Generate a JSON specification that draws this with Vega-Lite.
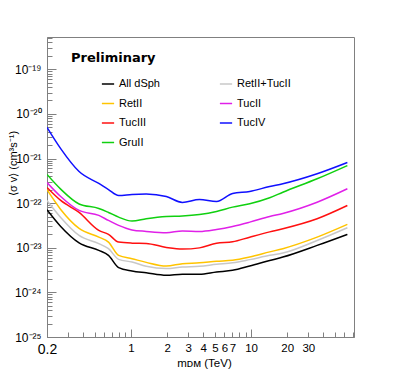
{
  "$schema": "https://vega.github.io/schema/vega-lite/v6.json",
  "width": 307,
  "height": 300,
  "autosize": {"type": "none"},
  "padding": {"left": 47, "top": 37, "right": 40, "bottom": 38},
  "background": "white",
  "title": {"text": "Preliminary", "anchor": "start", "frame": "group", "dx": 24, "offset": -43, "baseline": "alphabetic", "font": "DejaVu Sans", "fontSize": 13, "fontWeight": "bold", "color": "black"},
  "config": {
    "view": {"stroke": "#808080", "strokeWidth": 1},
    "axis": {"grid": false, "domainColor": "#808080", "tickColor": "#808080", "labelColor": "black", "labelFont": "Liberation Sans", "titleFont": "Liberation Sans", "titleColor": "black", "titleFontWeight": "normal", "labelOverlap": false, "labelFlush": false}
  },
  "data": {"values": [
    {"s":"All dSph","m":0.2,"sv":7.11e-23},{"s":"All dSph","m":0.26,"sv":3.01e-23},{"s":"All dSph","m":0.37,"sv":1.29e-23},{"s":"All dSph","m":0.54,"sv":8.74e-24},{"s":"All dSph","m":0.65,"sv":6.76e-24},{"s":"All dSph","m":0.79,"sv":3.59e-24},{"s":"All dSph","m":1.02,"sv":3.01e-24},{"s":"All dSph","m":1.34,"sv":2.74e-24},{"s":"All dSph","m":1.97,"sv":2.41e-24},{"s":"All dSph","m":2.68,"sv":2.54e-24},{"s":"All dSph","m":3.72,"sv":2.54e-24},{"s":"All dSph","m":5.16,"sv":2.86e-24},{"s":"All dSph","m":7.02,"sv":3.12e-24},{"s":"All dSph","m":9.75,"sv":3.9e-24},{"s":"All dSph","m":14.3,"sv":5.18e-24},{"s":"All dSph","m":18.4,"sv":6.19e-24},{"s":"All dSph","m":35.5,"sv":1.13e-23},{"s":"All dSph","m":63.4,"sv":2.0e-23},
    {"s":"RetII+TucII","m":0.2,"sv":1.15e-22},{"s":"RetII+TucII","m":0.26,"sv":4.79e-23},{"s":"RetII+TucII","m":0.37,"sv":1.89e-23},{"s":"RetII+TucII","m":0.54,"sv":1.24e-23},{"s":"RetII+TucII","m":0.65,"sv":9.55e-24},{"s":"RetII+TucII","m":0.79,"sv":5.5e-24},{"s":"RetII+TucII","m":1.02,"sv":4.79e-24},{"s":"RetII+TucII","m":1.34,"sv":3.84e-24},{"s":"RetII+TucII","m":1.97,"sv":3.41e-24},{"s":"RetII+TucII","m":2.68,"sv":3.7e-24},{"s":"RetII+TucII","m":3.72,"sv":3.84e-24},{"s":"RetII+TucII","m":5.16,"sv":4.25e-24},{"s":"RetII+TucII","m":7.02,"sv":4.59e-24},{"s":"RetII+TucII","m":9.75,"sv":5.42e-24},{"s":"RetII+TucII","m":14.3,"sv":6.76e-24},{"s":"RetII+TucII","m":18.4,"sv":7.61e-24},{"s":"RetII+TucII","m":35.5,"sv":1.46e-23},{"s":"RetII+TucII","m":63.4,"sv":2.82e-23},
    {"s":"RetII","m":0.2,"sv":2.0e-22},{"s":"RetII","m":0.26,"sv":7.23e-23},{"s":"RetII","m":0.37,"sv":2.72e-23},{"s":"RetII","m":0.54,"sv":1.73e-23},{"s":"RetII","m":0.65,"sv":1.34e-23},{"s":"RetII","m":0.79,"sv":6.76e-24},{"s":"RetII","m":1.02,"sv":5.7e-24},{"s":"RetII","m":1.34,"sv":4.71e-24},{"s":"RetII","m":1.97,"sv":3.9e-24},{"s":"RetII","m":2.68,"sv":4.41e-24},{"s":"RetII","m":3.72,"sv":4.59e-24},{"s":"RetII","m":5.16,"sv":4.96e-24},{"s":"RetII","m":7.02,"sv":5.22e-24},{"s":"RetII","m":9.75,"sv":6.19e-24},{"s":"RetII","m":14.3,"sv":8.09e-24},{"s":"RetII","m":18.4,"sv":9.55e-24},{"s":"RetII","m":35.5,"sv":1.73e-23},{"s":"RetII","m":63.4,"sv":3.34e-23},
    {"s":"TucII","m":0.2,"sv":2.9e-22},{"s":"TucII","m":0.26,"sv":1.41e-22},{"s":"TucII","m":0.37,"sv":6.87e-23},{"s":"TucII","m":0.54,"sv":5.31e-23},{"s":"TucII","m":0.65,"sv":4.1e-23},{"s":"TucII","m":0.79,"sv":3.17e-23},{"s":"TucII","m":1.02,"sv":2.51e-23},{"s":"TucII","m":1.34,"sv":2.33e-23},{"s":"TucII","m":1.97,"sv":2.18e-23},{"s":"TucII","m":2.68,"sv":2.39e-23},{"s":"TucII","m":3.72,"sv":2.33e-23},{"s":"TucII","m":5.16,"sv":2.58e-23},{"s":"TucII","m":7.02,"sv":3.01e-23},{"s":"TucII","m":9.75,"sv":3.76e-23},{"s":"TucII","m":14.3,"sv":5.04e-23},{"s":"TucII","m":18.4,"sv":5.89e-23},{"s":"TucII","m":35.5,"sv":1.05e-22},{"s":"TucII","m":63.4,"sv":2.1e-22},
    {"s":"TucIII","m":0.2,"sv":2.24e-22},{"s":"TucIII","m":0.26,"sv":1.15e-22},{"s":"TucIII","m":0.37,"sv":6.19e-23},{"s":"TucIII","m":0.54,"sv":2.45e-23},{"s":"TucIII","m":0.65,"sv":2.0e-23},{"s":"TucIII","m":0.79,"sv":1.34e-23},{"s":"TucIII","m":1.02,"sv":1.27e-23},{"s":"TucIII","m":1.34,"sv":1.25e-23},{"s":"TucIII","m":1.97,"sv":1.02e-23},{"s":"TucIII","m":2.68,"sv":9.35e-24},{"s":"TucIII","m":3.72,"sv":9.95e-24},{"s":"TucIII","m":5.16,"sv":1.27e-23},{"s":"TucIII","m":7.02,"sv":1.36e-23},{"s":"TucIII","m":9.75,"sv":1.73e-23},{"s":"TucIII","m":14.3,"sv":2.27e-23},{"s":"TucIII","m":18.4,"sv":2.67e-23},{"s":"TucIII","m":35.5,"sv":4.48e-23},{"s":"TucIII","m":63.4,"sv":8.88e-23},
    {"s":"TucIV","m":0.2,"sv":5.01e-21},{"s":"TucIV","m":0.26,"sv":1.67e-21},{"s":"TucIV","m":0.37,"sv":5.12e-22},{"s":"TucIV","m":0.54,"sv":2.76e-22},{"s":"TucIV","m":0.65,"sv":2.02e-22},{"s":"TucIV","m":0.79,"sv":1.49e-22},{"s":"TucIV","m":1.02,"sv":1.57e-22},{"s":"TucIV","m":1.34,"sv":1.61e-22},{"s":"TucIV","m":1.97,"sv":1.41e-22},{"s":"TucIV","m":2.68,"sv":1.04e-22},{"s":"TucIV","m":3.72,"sv":1.21e-22},{"s":"TucIV","m":5.16,"sv":1.09e-22},{"s":"TucIV","m":7.02,"sv":1.65e-22},{"s":"TucIV","m":9.75,"sv":1.83e-22},{"s":"TucIV","m":14.3,"sv":2.36e-22},{"s":"TucIV","m":18.4,"sv":2.72e-22},{"s":"TucIV","m":35.5,"sv":4.55e-22},{"s":"TucIV","m":63.4,"sv":8.13e-22},
    {"s":"GruII","m":0.2,"sv":4.39e-22},{"s":"GruII","m":0.26,"sv":2.06e-22},{"s":"GruII","m":0.37,"sv":9.6e-23},{"s":"GruII","m":0.54,"sv":7.61e-23},{"s":"GruII","m":0.65,"sv":6.19e-23},{"s":"GruII","m":0.79,"sv":4.86e-23},{"s":"GruII","m":1.02,"sv":3.96e-23},{"s":"GruII","m":1.34,"sv":4.48e-23},{"s":"GruII","m":1.97,"sv":5.04e-23},{"s":"GruII","m":2.68,"sv":5.17e-23},{"s":"GruII","m":3.72,"sv":5.59e-23},{"s":"GruII","m":5.16,"sv":6.52e-23},{"s":"GruII","m":7.02,"sv":8.14e-23},{"s":"GruII","m":9.75,"sv":9.7e-23},{"s":"GruII","m":14.3,"sv":1.32e-22},{"s":"GruII","m":18.4,"sv":1.76e-22},{"s":"GruII","m":35.5,"sv":3.52e-22},{"s":"GruII","m":63.4,"sv":6.96e-22}
  ]},
  "mark": {"type": "line", "strokeWidth": 1.5, "interpolate": "monotone", "clip": true},
  "encoding": {
    "x": {
      "field": "m", "type": "quantitative",
      "scale": {"type": "log", "domain": [0.2, 72], "nice": false},
      "axis": {
        "title": "mᴅᴍ (TeV)",
        "titleFontSize": 11.5,
        "titleX": 157, "titleY": 29, "titleBaseline": "alphabetic", "titleAlign": "center",
        "values": [0.2,0.3,0.4,0.5,0.6,0.7,0.8,0.9,1,2,3,4,5,6,7,8,9,10,20,30,40,50,60,70],
        "labelExpr": "indexof([0.2,1,2,3,4,5,6,7,10,20,30], datum.value) >= 0 ? '' + datum.value : ''",
        "labelFontSize": {"condition": {"test": "datum.value < 0.25", "value": 14}, "value": 11.5},
        "tickSize": {"condition": {"test": "datum.value == 1 || datum.value == 10", "value": -8}, "value": -5},
        "labelPadding": {"condition": {"test": "datum.value == 1 || datum.value == 10", "value": 13}, "value": 10}
      }
    },
    "y": {
      "field": "sv", "type": "quantitative",
      "scale": {"type": "log", "domain": [1e-25, 5.3e-19], "nice": false},
      "axis": {
        "title": "⟨σ v⟩ (cm³s⁻¹)",
        "titleFontSize": 11,
        "titleAngle": -90, "titleX": -34, "titleY": 126, "titleAlign": "center", "titleBaseline": "middle",
        "values": [1e-25,2e-25,3e-25,4e-25,5e-25,6e-25,7e-25,8e-25,9e-25,1e-24,2e-24,3e-24,4e-24,5e-24,6e-24,7e-24,8e-24,9e-24,1e-23,2e-23,3e-23,4e-23,5e-23,6e-23,7e-23,8e-23,9e-23,1e-22,2e-22,3e-22,4e-22,5e-22,6e-22,7e-22,8e-22,9e-22,1e-21,2e-21,3e-21,4e-21,5e-21,6e-21,7e-21,8e-21,9e-21,1e-20,2e-20,3e-20,4e-20,5e-20,6e-20,7e-20,8e-20,9e-20,1e-19,2e-19,3e-19,4e-19,5e-19],
        "labelExpr": "abs(log(datum.value)/LN10 - round(log(datum.value)/LN10)) > 0.01 ? '' : (round(log(datum.value)/LN10) == -25 ? '10⁻²⁵' : round(log(datum.value)/LN10) == -24 ? '10⁻²⁴' : round(log(datum.value)/LN10) == -23 ? '10⁻²³' : round(log(datum.value)/LN10) == -22 ? '10⁻²²' : round(log(datum.value)/LN10) == -21 ? '10⁻²¹' : round(log(datum.value)/LN10) == -20 ? '10⁻²⁰' : '10⁻¹⁹')",
        "labelFontSize": 12,
        "tickSize": {"condition": {"test": "abs(log(datum.value)/LN10 - round(log(datum.value)/LN10)) < 0.01", "value": -9}, "value": -5},
        "labelPadding": 15
      }
    },
    "color": {
      "field": "s", "type": "nominal",
      "scale": {"domain": ["All dSph","RetII+TucII","RetII","TucII","TucIII","TucIV","GruII"], "range": ["#000000","#c8c8c8","#ffc400","#e020e8","#ff1010","#1010ff","#10d010"]},
      "legend": {"orient": "none", "legendX": 54, "legendY": 40, "columns": 2, "direction": "horizontal", "title": null, "symbolType": "stroke", "symbolSize": 150, "symbolStrokeWidth": 1.5, "labelFont": "Liberation Sans", "labelFontSize": 11, "labelColor": "black", "columnPadding": 56, "rowPadding": 7.5, "padding": 0, "labelOffset": 4}
    }
  }
}
